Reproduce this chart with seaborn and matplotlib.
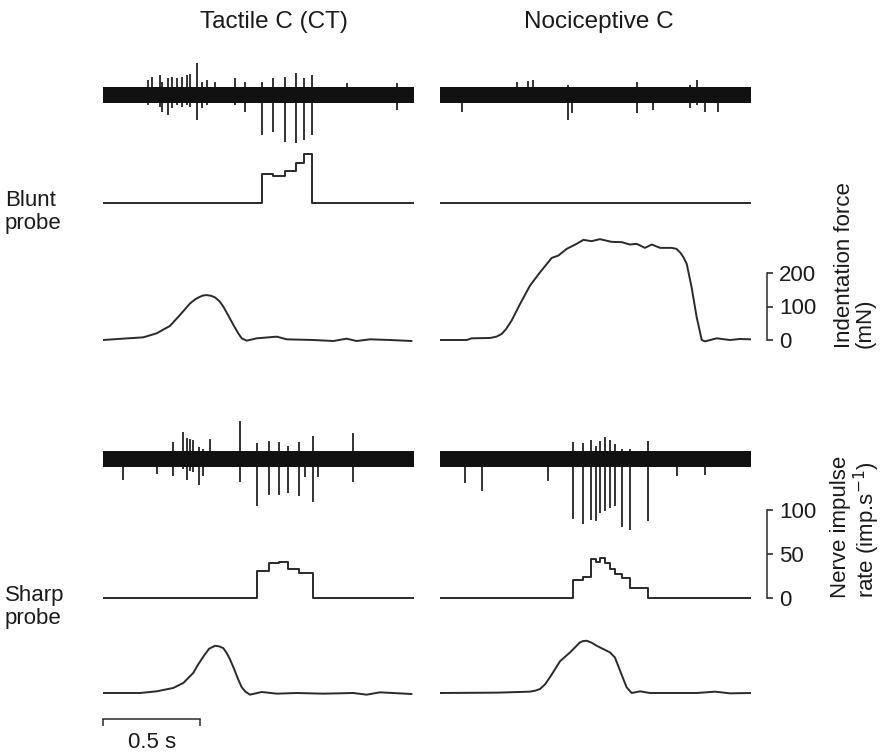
import seaborn as sns
import matplotlib.pyplot as plt

sns.set_style("white")
plt.rcParams['font.family'] = ['Liberation Sans', 'DejaVu Sans']

# recording length shown in every trace (s)
DURATION = 1.6

# ---- Tactile C (CT), blunt probe ----
# nerve recording, unit spikes (s) and their peaks (a.u., + up / - down)
ct_blunt_unit_t = [0.815, 0.872, 0.935, 0.992, 1.035, 1.072]
ct_blunt_unit_up = [13, 17, 18, 22, 17, 20]
ct_blunt_unit_dn = [-40, -37, -47, -48, -45, -40]
# smaller deflections in the noise
ct_blunt_noise_t = [0.233, 0.250, 0.293, 0.302, 0.336, 0.353, 0.379, 0.404, 0.433, 0.447,
                    0.481, 0.507, 0.533, 0.576, 0.678, 0.730, 1.252, 1.509]
ct_blunt_noise_up = [15, 18, 20, 13, 17, 18, 17, 18, 20, 21, 32, 13, 15, 13, 17, 13, 12, 12]
ct_blunt_noise_dn = [-10, -8, -12, -17, -20, -13, -10, -12, -10, -12, -25, -13, -10, -8, -10, -17, -8, -15]
# instantaneous rate between unit spikes (imp/s)
ct_blunt_rate = [33, 31, 36, 45, 56]
# indentation force (mN)
ct_blunt_force_t = [0.0, 0.207, 0.276, 0.344, 0.396, 0.447, 0.475, 0.498, 0.515, 0.533, 0.555,
                    0.576, 0.598, 0.618, 0.645, 0.670, 0.695, 0.713, 0.738, 0.790, 0.893, 0.944,
                    1.081, 1.184, 1.252, 1.303, 1.372, 1.475, 1.586]
ct_blunt_force = [0, 8, 20, 42, 75, 109, 122, 129, 133, 134, 132,
                  127, 116, 100, 72, 45, 20, 5, -2, 5, 10, 2,
                  0, -3, 4, -3, 2, 0, -3]

# ---- Nociceptive C, blunt probe ----
noc_blunt_unit_t = []
noc_blunt_unit_up = []
noc_blunt_unit_dn = []
noc_blunt_noise_t = [0.111, 0.394, 0.454, 0.480, 0.659, 0.677, 1.011, 1.096, 1.285, 1.319, 1.362, 1.430]
noc_blunt_noise_up = [8, 13, 14, 15, 10, 8, 13, 8, 10, 15, 8, 8]
noc_blunt_noise_dn = [-17, -8, -8, -8, -25, -18, -18, -15, -13, -10, -17, -17]
noc_blunt_rate = []
noc_blunt_force_t = [0.0, 0.137, 0.163, 0.257, 0.290, 0.317, 0.340, 0.368, 0.411, 0.462, 0.514,
                     0.574, 0.608, 0.651, 0.702, 0.737, 0.779, 0.822, 0.882, 0.934, 0.976, 1.011,
                     1.053, 1.088, 1.131, 1.191, 1.215, 1.233, 1.250, 1.268, 1.293, 1.319, 1.345,
                     1.362, 1.422, 1.490, 1.542, 1.600]
noc_blunt_force = [0, 0, 5, 6, 10, 18, 33, 58, 107, 162, 202,
                   245, 252, 272, 287, 299, 295, 301, 293, 292, 285, 287,
                   275, 285, 275, 275, 272, 262, 248, 227, 157, 68, 0,
                   -4, 5, 0, 3, 2]

# ---- Tactile C (CT), sharp probe ----
ct_sharp_unit_t = [0.793, 0.855, 0.906, 0.952, 1.009, 1.078]
ct_sharp_unit_up = [16, 18, 17, 13, 17, 23]
ct_sharp_unit_dn = [-47, -36, -36, -34, -37, -43]
ct_sharp_noise_t = [0.101, 0.276, 0.358, 0.413, 0.433, 0.447, 0.464, 0.493, 0.516, 0.550,
                    0.704, 1.038, 1.107, 1.283]
ct_sharp_noise_up = [8, 8, 17, 27, 21, 20, 19, 12, 10, 20, 38, 8, 8, 26]
ct_sharp_noise_dn = [-21, -15, -17, -10, -21, -12, -13, -26, -17, -8, -23, -18, -18, -23]
ct_sharp_rate = [31, 40, 41, 33, 28]
ct_sharp_force_t = [0.0, 0.190, 0.276, 0.361, 0.413, 0.464, 0.490, 0.516, 0.545, 0.576, 0.598,
                    0.618, 0.635, 0.653, 0.675, 0.695, 0.712, 0.730, 0.755, 0.816, 0.893, 0.995,
                    1.132, 1.286, 1.355, 1.423, 1.586]
ct_sharp_force = [0, 0, 5, 15, 30, 60, 86, 109, 132, 141, 139,
                  134, 120, 100, 70, 40, 18, 5, -5, 3, -2, 0,
                  -2, 0, -5, 2, -3]

# ---- Nociceptive C, sharp probe ----
noc_sharp_unit_t = [0.685, 0.733, 0.778, 0.800, 0.822, 0.846, 0.874, 0.901, 0.937, 0.976, 1.071]
noc_sharp_unit_up = [17, 16, 19, 13, 18, 22, 19, 15, 10, 10, 18]
noc_sharp_unit_dn = [-60, -65, -61, -62, -54, -52, -49, -47, -68, -71, -62]
noc_sharp_noise_t = [0.128, 0.214, 0.557, 1.216, 1.362]
noc_sharp_noise_up = [8, 8, 8, 8, 8]
noc_sharp_noise_dn = [-24, -32, -22, -17, -16]
noc_sharp_rate = [20, 24, 44, 41, 45, 40, 33, 27, 23, 11]
noc_sharp_force_t = [0.0, 0.291, 0.462, 0.490, 0.514, 0.540, 0.565, 0.617, 0.668, 0.719, 0.735,
                     0.754, 0.780, 0.805, 0.874, 0.899, 0.925, 0.959, 0.985, 1.028, 1.079, 1.319,
                     1.413, 1.490, 1.602]
noc_sharp_force = [0, 1, 4, 7, 12, 26, 47, 95, 121, 151, 155,
                   156, 150, 141, 121, 106, 67, 17, 0, 5, 0, 0,
                   4, -1, 0]

# half width of the background noise band (a.u.)
noise_band = 8

force_ticks = [0, 100, 200]
rate_ticks = [0, 50, 100]

# ---------------- layout (pixels of the 887x754 figure) ----------------
W, H = 887, 754
COL_X = [103, 440]
SPAN = DURATION * 194.6
TRACE = '#2a2a2a'
INK = '#111111'

fig = plt.figure(figsize=(W / 100, H / 100), dpi=100)


def panel(col, top, bottom, base, ppu):
    ax = fig.add_axes([COL_X[col] / W, 1 - bottom / H, SPAN / W, (bottom - top) / H])
    ax.set_xlim(0, DURATION)
    ax.set_ylim((base - bottom) / ppu, (base - top) / ppu)
    sns.despine(ax=ax, left=True, bottom=True)
    ax.set_xticks([])
    ax.set_yticks([])
    ax.patch.set_alpha(0)
    return ax


def nerve(ax, unit_t, unit_up, unit_dn, noise_t, noise_up, noise_dn):
    ax.fill_between([0, DURATION], -noise_band, noise_band, color=INK, lw=0)
    ax.vlines(noise_t, noise_dn, noise_up, color=INK, lw=1.2)
    ax.vlines(unit_t, unit_dn, unit_up, color=INK, lw=1.2)


def rate(ax, unit_t, levels):
    xs = [0] + list(unit_t) + [DURATION]
    ys = [0] + list(levels) + ([0, 0] if unit_t else [0])
    sns.lineplot(x=xs, y=ys, ax=ax, color=TRACE, lw=1.4, drawstyle='steps-post',
                 estimator=None, sort=False)


def force(ax, t, f):
    sns.lineplot(x=t, y=f, ax=ax, color=TRACE, lw=1.4, estimator=None, sort=False)


def scale_bar(ax, ticks):
    lim = ax.get_ylim()
    sp = ax.spines['right']
    sp.set_visible(True)
    sp.set_position(('outward', 11))
    sp.set_bounds(ticks[0], ticks[-1])
    sp.set_linewidth(1.1)
    sp.set_color(TRACE)
    ax.yaxis.set_ticks_position('right')
    ax.set_yticks(ticks)
    ax.set_ylim(lim)
    ax.tick_params(axis='y', right=True, direction='out', length=4, width=1.1, pad=5,
                   labelsize=16, colors='#1a1a1a')


RATE_PPU = 0.883
FORCE_PPU = 0.335

rows = [
    # blunt probe
    dict(nerve_c=95, rate_b=203, force_b=340,
         data=[(ct_blunt_unit_t, ct_blunt_unit_up, ct_blunt_unit_dn, ct_blunt_noise_t, ct_blunt_noise_up,
                ct_blunt_noise_dn, ct_blunt_rate, ct_blunt_force_t, ct_blunt_force),
               (noc_blunt_unit_t, noc_blunt_unit_up, noc_blunt_unit_dn, noc_blunt_noise_t, noc_blunt_noise_up,
                noc_blunt_noise_dn, noc_blunt_rate, noc_blunt_force_t, noc_blunt_force)]),
    # sharp probe
    dict(nerve_c=459, rate_b=598, force_b=693,
         data=[(ct_sharp_unit_t, ct_sharp_unit_up, ct_sharp_unit_dn, ct_sharp_noise_t, ct_sharp_noise_up,
                ct_sharp_noise_dn, ct_sharp_rate, ct_sharp_force_t, ct_sharp_force),
               (noc_sharp_unit_t, noc_sharp_unit_up, noc_sharp_unit_dn, noc_sharp_noise_t, noc_sharp_noise_up,
                noc_sharp_noise_dn, noc_sharp_rate, noc_sharp_force_t, noc_sharp_force)]),
]

force_axes = {}
rate_axes = {}
for r, row in enumerate(rows):
    for col, d in enumerate(row['data']):
        ut, uu, ud, nt, nu, nd, lv, ft, fv = d
        c = row['nerve_c']
        ax = panel(col, c - 50, c + 80, c, 1.0)
        nerve(ax, ut, uu, ud, nt, nu, nd)
        b = row['rate_b']
        ax = panel(col, b - 100, b + 8, b, RATE_PPU)
        rate(ax, ut, lv)
        rate_axes[(r, col)] = ax
        b = row['force_b']
        ax = panel(col, b - 115, b + 8, b, FORCE_PPU)
        force(ax, ft, fv)
        force_axes[(r, col)] = ax

# force scale bar (blunt row, right) and rate scale bar (sharp row, right)
scale_bar(force_axes[(0, 1)], force_ticks)
scale_bar(rate_axes[(1, 1)], rate_ticks)

# time scale bar (sharp row, left)
ax = force_axes[(1, 0)]
ax.spines['bottom'].set_visible(True)
ax.spines['bottom'].set_position(('outward', 13))
ax.spines['bottom'].set_bounds(0, 0.5)
ax.spines['bottom'].set_linewidth(1.1)
ax.spines['bottom'].set_color(TRACE)
ax.set_xticks([0.25])
ax.set_xticklabels(['0.5 s'])
ax.set_xticks([0, 0.5], minor=True)
ax.set_xlim(0, DURATION)
ax.tick_params(axis='x', which='major', bottom=True, length=0, pad=9, labelsize=16, colors='#1a1a1a')
ax.tick_params(axis='x', which='minor', bottom=True, direction='out', length=5, width=1.1, color=TRACE)

# titles and labels
fig.text(274 / W, 1 - 22 / H, 'Tactile C (CT)', ha='center', va='center', size=17.5, color='#1a1a1a')
fig.text(599 / W, 1 - 22 / H, 'Nociceptive C', ha='center', va='center', size=17.5, color='#1a1a1a')
fig.text(5 / W, 1 - 212 / H, 'Blunt\nprobe', ha='left', va='center', size=16, linespacing=1.1, color='#1a1a1a')
fig.text(5 / W, 1 - 607 / H, 'Sharp\nprobe', ha='left', va='center', size=16, linespacing=1.1, color='#1a1a1a')
fig.text(855 / W, 1 - 348 / H, 'Indentation force\n(mN)', rotation=90, ha='center', va='bottom',
         multialignment='left', size=16, linespacing=1.0, color='#1a1a1a')
fig.text(856 / W, 1 - 598 / H, 'Nerve impulse\nrate (imp.s$^{-1}$)', rotation=90, ha='center', va='bottom',
         multialignment='left', size=16, linespacing=1.0, color='#1a1a1a')

fig.savefig('out.png', dpi=100)
